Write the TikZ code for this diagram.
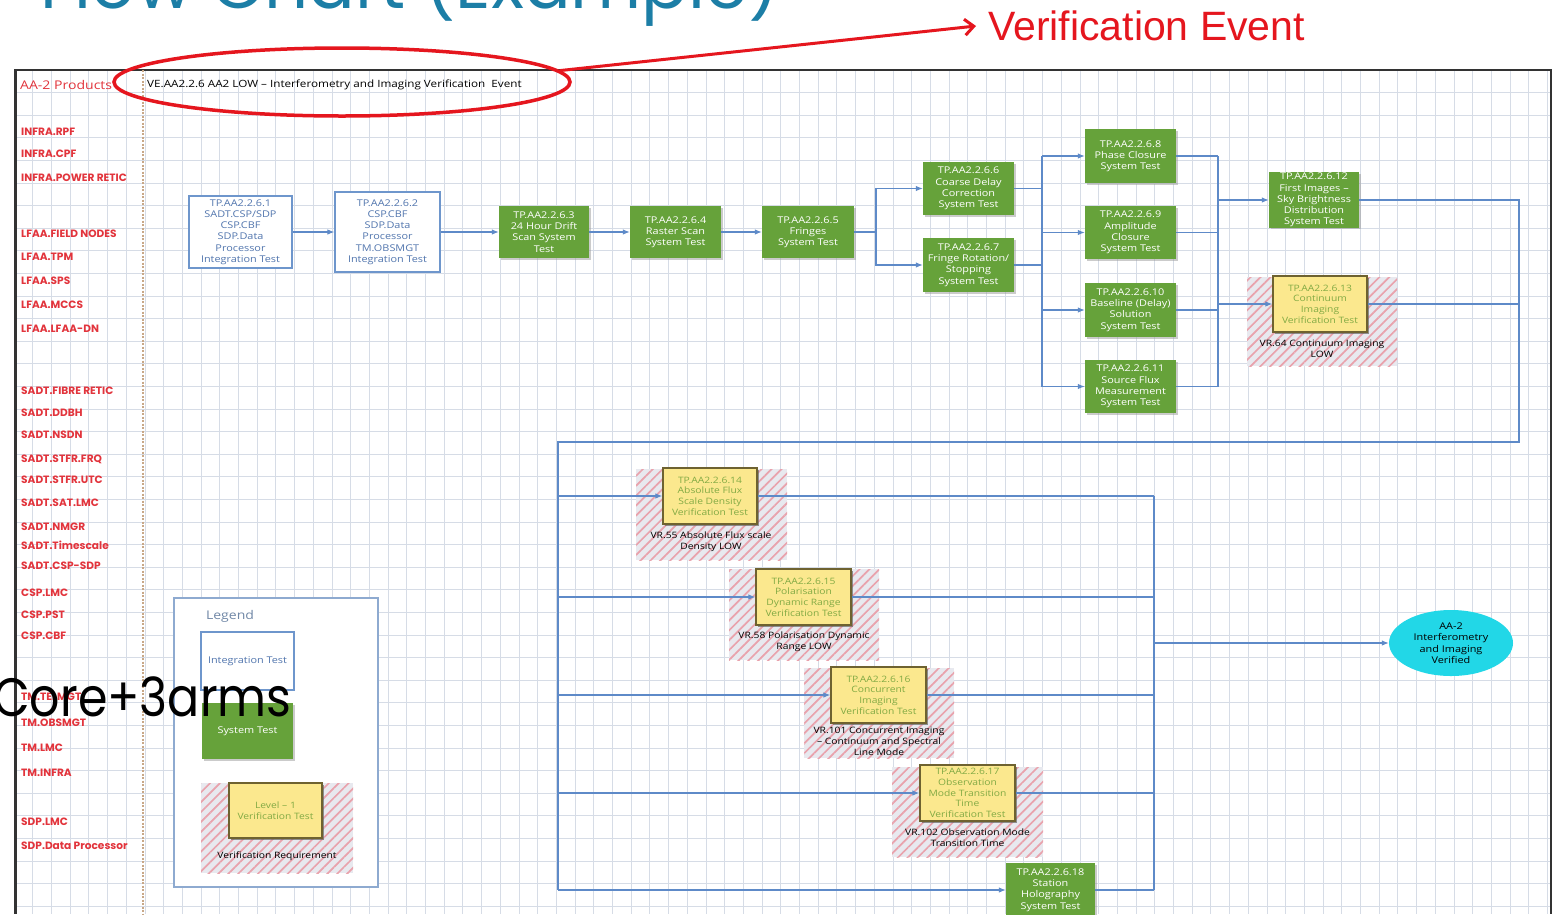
\documentclass[tikz,border=0pt]{standalone}
\usepackage{fontspec}
\setmainfont[FakeStretch=1.17]{Open Sans}
\newfontfamily\popp{Poppins}
\newfontfamily\poppn[FakeStretch=0.88]{Poppins}
\newfontfamily\arialf{Liberation Sans}
\usetikzlibrary{shapes.geometric,arrows.meta,patterns.meta,shadows,calc}
\definecolor{gridc}{HTML}{D6DCE6}
\definecolor{labred}{HTML}{E2343C}
\definecolor{sysg}{HTML}{66A23A}
\definecolor{intb}{HTML}{6E96CC}
\definecolor{intt}{HTML}{5276AE}
\definecolor{connc}{HTML}{5E8AC8}
\definecolor{yelf}{HTML}{FBE88E}
\definecolor{yelb}{HTML}{6E6230}
\definecolor{yelt}{HTML}{82AA44}
\definecolor{hatchbg}{HTML}{E8E9EF}
\definecolor{hatchln}{HTML}{E9A2AC}
\definecolor{cyanov}{HTML}{22D7E7}
\definecolor{titleteal}{HTML}{1C7EA6}
\definecolor{vered}{HTML}{E5161E}
\definecolor{legb}{HTML}{8EAAD0}
\definecolor{sepc}{HTML}{C8A888}
\begin{document}
\begin{tikzpicture}[x=1pt,y=-1pt,
  lab/.style={anchor=west, inner sep=0, text=labred, font=\popp\bfseries\fontsize{10.6}{11}\selectfont},
  box/.style={rectangle, align=center, inner sep=1pt, font=\fontsize{9.3}{11.2}\selectfont},
  integ/.style={box, draw=intb, line width=1.2, fill=white, text=intt},
  sys/.style={box, fill=sysg, text=white, drop shadow={shadow xshift=1.5pt, shadow yshift=-1.5pt, fill=black!40, opacity=0.5}},
  ybox/.style={box, fill=yelf, draw=yelb, line width=1.3, text=yelt, font=\fontsize{8.8}{10.6}\selectfont, drop shadow={shadow xshift=1.5pt, shadow yshift=-1.5pt, fill=black!60, opacity=0.7}},
  hatch/.style={rectangle, inner sep=0, fill=hatchbg, postaction={pattern={Lines[angle=45,distance=7pt,line width=1.7pt]}, pattern color=hatchln}},
  vr/.style={align=center, inner sep=0, text=black, font=\fontsize{8.8}{11}\selectfont},
  conn/.style={draw=connc, line width=1.1},
  arr/.style={conn, -{Latex[length=7pt,width=5.5pt]}}
]
\useasboundingbox (0,0) rectangle (1565,914);
\clip (0,0) rectangle (1565,914);
\fill[white] (0,0) rectangle (1565,914);

% title (cut off at top)
\node[anchor=base west, inner sep=0, text=titleteal, font=\popp\fontsize{69}{69}\selectfont] (title) at (40,8) {Flow Chart (Example)};

% grid
\foreach \i in {0,...,82} \draw[gridc, line width=0.7] ({14+\i*18.7},70) -- ({14+\i*18.7},914);
\foreach \j in {0,...,37} \draw[gridc, line width=0.7] (14,{70+\j*22.6}) -- (1552,{70+\j*22.6});

% frame
\draw[black!80, line width=2] (14,70) -- (1552,70);
\draw[black!80, line width=3] (15,70) -- (15,914);
\draw[black!80, line width=2] (1551,70) -- (1551,914);
\draw[sepc, line width=1.2, dash pattern=on 2pt off 1.5pt] (143,70) -- (143,914);

% left labels
\node[anchor=west, inner sep=0, text=labred, font=\fontsize{12}{14}\selectfont] (prod) at (20,85) {AA-2 Products};
\foreach \y/\t [count=\k] in {131.5/INFRA.RPF, 154/INFRA.CPF, 177.5/INFRA.POWER RETIC, 234/LFAA.FIELD NODES, 256.5/LFAA.TPM, 281/LFAA.SPS, 305/LFAA.MCCS, 329/LFAA.LFAA-DN, 390.5/SADT.FIBRE RETIC, 412.5/SADT.DDBH, 435/SADT.NSDN, 459/SADT.STFR.FRQ, 480/SADT.STFR.UTC, 503/SADT.SAT.LMC, 526.5/SADT.NMGR, 545/SADT.Timescale, 566/SADT.CSP-SDP, 593/CSP.LMC, 615/CSP.PST, 636/CSP.CBF, 697/TM.TELMGT, 722.5/TM.OBSMGT, 748/TM.LMC, 772.5/TM.INFRA, 822/SDP.LMC, 846/SDP.Data Processor}
  \node[lab] (lab\k) at (21,\y) {\t};

% verification event header
\node[anchor=west, inner sep=0, font=\fontsize{10}{12}\selectfont] (vetext) at (147,85) {VE.AA2.2.6 AA2 LOW -- Interferometry and Imaging Verification\ \ Event};
\node[ellipse, draw=vered, line width=3.5, minimum width=456, minimum height=68, inner sep=0] (vell) at (342,82) {};
\node[anchor=west, inner xsep=12pt, inner ysep=0, text=vered, font=\arialf\fontsize{41}{43}\selectfont] (vevent) at (976,26) {Verification Event};
\draw[vered, line width=3, -{Straight Barb[length=9pt,width=16pt]}] (vell.3) -- (vevent.west);

% legend
\node[draw=legb, fill=white, line width=1.2, minimum width=204, minimum height=289, inner sep=0] (legend) at (276,742.5) {};
\node[text=legb!80!black, inner sep=0, font=\fontsize{12}{13}\selectfont] (legt) at (230,616) {Legend};
\node[integ, minimum width=93, minimum height=58] (lint) at (247.5,661) {Integration Test};
\node[sys, minimum width=91, minimum height=56] (lsys) at (247.5,731) {System Test};
\node[hatch, minimum width=152, minimum height=90] (lh) at (277,828) {};
\node[ybox, minimum width=93, minimum height=55] (ly) at (275.5,810.5) {Level -- 1\\Verification Test};
\node[vr] (lvr) at (277,856) {Verification Requirement};

% top row
\node[integ, minimum width=103, minimum height=72] (b1) at (240.5,232) {TP.AA2.2.6.1\\SADT.CSP/SDP\\CSP.CBF\\SDP.Data\\Processor\\Integration Test};
\node[integ, minimum width=105, minimum height=80] (b2) at (387.5,232) {TP.AA2.2.6.2\\CSP.CBF\\SDP.Data\\Processor\\TM.OBSMGT\\Integration Test};
\node[sys, minimum width=90, minimum height=52] (b3) at (544,232) {TP.AA2.2.6.3\\24 Hour Drift\\Scan System\\Test};
\node[sys, minimum width=91, minimum height=52] (b4) at (675.5,232) {TP.AA2.2.6.4\\Raster Scan\\System Test};
\node[sys, minimum width=92, minimum height=52] (b5) at (808,232) {TP.AA2.2.6.5\\Fringes\\System Test};
\node[sys, minimum width=91, minimum height=53] (b6) at (968.5,188.5) {TP.AA2.2.6.6\\Coarse Delay\\Correction\\System Test};
\node[sys, minimum width=91, minimum height=54] (b7) at (968.5,265) {TP.AA2.2.6.7\\Fringe Rotation/\\Stopping\\System Test};
\node[sys, minimum width=91, minimum height=54] (b8) at (1130.5,156) {TP.AA2.2.6.8\\Phase Closure\\System Test};
\node[sys, minimum width=91, minimum height=53] (b9) at (1130.5,232.5) {TP.AA2.2.6.9\\Amplitude\\Closure\\System Test};
\node[sys, minimum width=91, minimum height=54] (b10) at (1130.5,310) {TP.AA2.2.6.10\\Baseline (Delay)\\Solution\\System Test};
\node[sys, minimum width=91, minimum height=53] (b11) at (1130.5,386.5) {TP.AA2.2.6.11\\Source Flux\\Measurement\\System Test};
\node[sys, minimum width=90, minimum height=54] (b12) at (1314,200) {TP.AA2.2.6.12\\First Images --\\Sky Brightness\\Distribution\\System Test};

% hatched verification blocks
\node[hatch, minimum width=150, minimum height=89] (h13) at (1322,321.5) {};
\node[hatch, minimum width=151, minimum height=91] (h14) at (711.5,514.5) {};
\node[hatch, minimum width=150, minimum height=91] (h15) at (804,614.5) {};
\node[hatch, minimum width=150, minimum height=90] (h16) at (879,713) {};
\node[hatch, minimum width=151, minimum height=90] (h17) at (967.5,812) {};

% connector junctions
\coordinate (s1) at (876,232);
\coordinate (bx1) at (1042,0);
\coordinate (bx2) at (1218,0);
\coordinate (bx3) at (1519,0);
\coordinate (bl) at (558,0);
\coordinate (br) at (1154,0);
\coordinate (ytop) at (0,442);

\node[ybox, minimum width=94, minimum height=56] (y13) at (1320,304) {TP.AA2.2.6.13\\Continuum\\Imaging\\Verification Test};
\node[ybox, minimum width=94, minimum height=56] (y14) at (710,496) {TP.AA2.2.6.14\\Absolute Flux\\Scale Density\\Verification Test};
\node[ybox, minimum width=95, minimum height=56] (y15) at (803.5,597) {TP.AA2.2.6.15\\Polarisation\\Dynamic Range\\Verification Test};
\node[ybox, minimum width=95, minimum height=56] (y16) at (878.5,695) {TP.AA2.2.6.16\\Concurrent\\Imaging\\Verification Test};
\node[ybox, minimum width=95, minimum height=56] (y17) at (967.5,793) {TP.AA2.2.6.17\\Observation\\Mode Transition\\Time\\Verification Test};
\node[sys, minimum width=89, minimum height=54] (b18) at (1050.5,890) {TP.AA2.2.6.18\\Station\\Holography\\System Test};

\node[vr] (vr13) at (1322,348.5) {VR.64 Continuum Imaging\\LOW};
\node[vr] (vr14) at (711,542) {VR.55 Absolute Flux scale\\Density LOW};
\node[vr] (vr15) at (804,642) {VR.58 Polarisation Dynamic\\Range LOW};
\node[vr] (vr16) at (879,741) {VR.101 Concurrent Imaging\\-- Continuum and Spectral\\Line Mode};
\node[vr] (vr17) at (967.5,838) {VR.102 Observation Mode\\Transition Time};

\node[ellipse, fill=cyanov, minimum width=124, minimum height=66, inner sep=0, align=center, font=\fontsize{9.3}{11.5}\selectfont] (ov) at (1451,643) {AA-2\\Interferometry\\and Imaging\\Verified};

\draw[arr] (b1) -- (b2);
\draw[arr] (b2) -- (b3);
\draw[arr] (b3) -- (b4);
\draw[arr] (b4) -- (b5);
\draw[conn] (b5.east) -- (s1);
\draw[arr] (s1) |- (b6.west);
\draw[arr] (s1) |- (b7.west);
\draw[conn] (b6.east) -- (b6.east -| bx1);
\draw[conn] (b7.east) -- (b7.east -| bx1);
\draw[conn] (b8.west -| bx1) -- (b11.west -| bx1);
\foreach \n in {b8,b9,b10,b11} {
  \draw[arr] (\n.west -| bx1) -- (\n.west);
  \draw[conn] (\n.east) -- (\n.east -| bx2);
}
\draw[conn] (b8.east -| bx2) -- (b11.east -| bx2);
\draw[arr] (b12.west -| bx2) -- (b12.west);
\draw[arr] (y13.west -| bx2) -- (y13.west);
\draw[conn] (b12.east) -- (b12.east -| bx3) -- (ytop -| bx3) -- (ytop -| bl) -- (b18.west -| bl);
\draw[conn] (y13.east) -- (y13.east -| bx3);
\foreach \n in {y14,y15,y16,y17,b18} {
  \draw[arr] (\n.west -| bl) -- (\n.west);
  \draw[conn] (\n.east) -- (\n.east -| br);
}
\draw[conn] (y14.east -| br) -- (b18.east -| br);
\draw[arr] (ov.west -| br) -- (ov.west);

% overlay text
\node[anchor=base west, inner sep=0, font=\poppn\fontsize{54}{54}\selectfont] (core) at (-7,716) {Core+3arms};
\end{tikzpicture}
\end{document}
